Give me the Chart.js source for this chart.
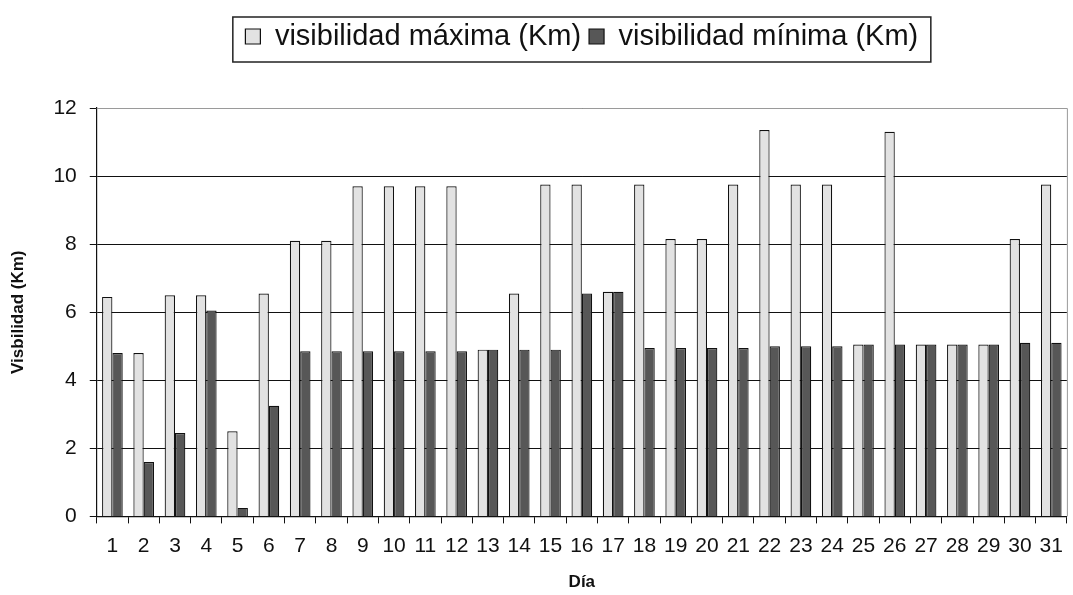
<!DOCTYPE html>
<html>
<head>
<meta charset="utf-8">
<script src="https://cdn.jsdelivr.net/npm/chart.js@4.4.1/dist/chart.umd.min.js"></script>
<style>
  html, body { margin: 0; padding: 0; background: #fff; }
  #wrap { width: 1073px; height: 595px; }
</style>
</head>
<body>
<div id="wrap"><canvas id="chart"></canvas></div>
<script>
// Visibilidad diaria, días 1..31
const dias = Array.from({ length: 31 }, (_, i) => String(i + 1));

const visMax = [6.45, 4.8, 6.5, 6.5, 2.5, 6.55, 8.1, 8.1, 9.7, 9.7,
                9.7, 9.7, 4.9, 6.55, 9.75, 9.75, 6.6, 9.75, 8.15, 8.15,
                9.75, 11.35, 9.75, 9.75, 5.05, 11.3, 5.05, 5.05, 5.05, 8.15,
                9.75];
const visMin = [4.8, 1.6, 2.45, 6.05, 0.25, 3.25, 4.85, 4.85, 4.85, 4.85,
                4.85, 4.85, 4.9, 4.9, 4.9, 6.55, 6.6, 4.95, 4.95, 4.95,
                4.95, 5.0, 5.0, 5.0, 5.05, 5.05, 5.05, 5.05, 5.05, 5.1,
                5.1];

const yTicks = [0, 2, 4, 6, 8, 10, 12];

const FONT = 'Liberation Sans, Arial, sans-serif';

// más aire bajo la leyenda, y leyenda centrada sobre el área de trazado
const legendPlugin = {
  id: 'legendSpace',
  beforeInit(chart) {
    const fit = chart.legend.fit;
    chart.legend.fit = function () {
      fit.bind(chart.legend)();
      this.height += 47;
    };
  },
  afterLayout(chart) {
    const a = chart.chartArea, lg = chart.legend;
    const shift = (a.left + a.right) / 2 - (lg.left + lg.right) / 2;
    lg.left += shift;
    lg.right += shift;
  }
};

// caja alrededor de la leyenda + marco gris del área de trazado
const framePlugin = {
  id: 'frame',
  afterDraw(chart) {
    const { ctx, chartArea: a } = chart;
    ctx.save();
    ctx.strokeStyle = '#9a9a9a';
    ctx.lineWidth = 1;
    ctx.beginPath();
    ctx.moveTo(a.left, a.top + 0.5);
    ctx.lineTo(a.right + 0.5, a.top + 0.5);
    ctx.lineTo(a.right + 0.5, a.bottom);
    ctx.stroke();
    ctx.strokeStyle = '#222';
    ctx.lineWidth = 1.5;
    const w = 698, h = 45;
    const x = (a.left + a.right) / 2 - w / 2;
    ctx.strokeRect(x, 17, w, h);
    ctx.restore();
  }
};

new Chart(document.getElementById('chart'), {
  type: 'bar',
  data: {
    labels: dias,
    datasets: [
      {
        label: 'visibilidad máxima (Km)',
        data: visMax,
        backgroundColor: '#e2e2e2',
        borderColor: '#111',
        borderWidth: 1.2,
        categoryPercentage: 0.66,
        barPercentage: 1.0,
      },
      {
        label: 'visibilidad mínima (Km)',
        data: visMin,
        backgroundColor: '#575757',
        borderColor: '#111',
        borderWidth: 1.2,
        categoryPercentage: 0.66,
        barPercentage: 1.0,
      }
    ]
  },
  options: {
    responsive: true,
    maintainAspectRatio: false,
    animation: false,
    layout: { padding: { top: 14, right: 4, left: 4, bottom: 0 } },
    plugins: {
      legend: {
        position: 'top',
        labels: {
          font: { size: 29, family: FONT },
          color: '#111',
          boxWidth: 15,
          boxHeight: 15,
          padding: 8,
        },
      },
      tooltip: { enabled: false },
    },
    scales: {
      x: {
        grid: { display: true, drawOnChartArea: false, drawTicks: true, tickLength: 7, color: '#111', offset: true },
        border: { color: '#111', width: 1.2 },
        ticks: { font: { size: 21, family: FONT }, color: '#111', padding: 10, maxRotation: 0, autoSkip: false },
        title: { display: true, text: 'Día', font: { size: 17, family: FONT, weight: 'bold' }, color: '#111', padding: { top: 4, bottom: 2 } },
      },
      y: {
        min: 0,
        max: 12,
        afterBuildTicks: axis => { axis.ticks = yTicks.map(v => ({ value: v })); },
        grid: { color: '#111', lineWidth: 1, drawTicks: true, tickLength: 7 },
        border: { color: '#111', width: 1.2 },
        ticks: { font: { size: 21, family: FONT }, color: '#111', padding: 13 },
        title: { display: true, text: 'Visbilidad (Km)', font: { size: 17, family: FONT, weight: 'bold' }, color: '#111', padding: { bottom: 12 } },
      }
    }
  },
  plugins: [legendPlugin, framePlugin]
});
</script>
</body>
</html>
